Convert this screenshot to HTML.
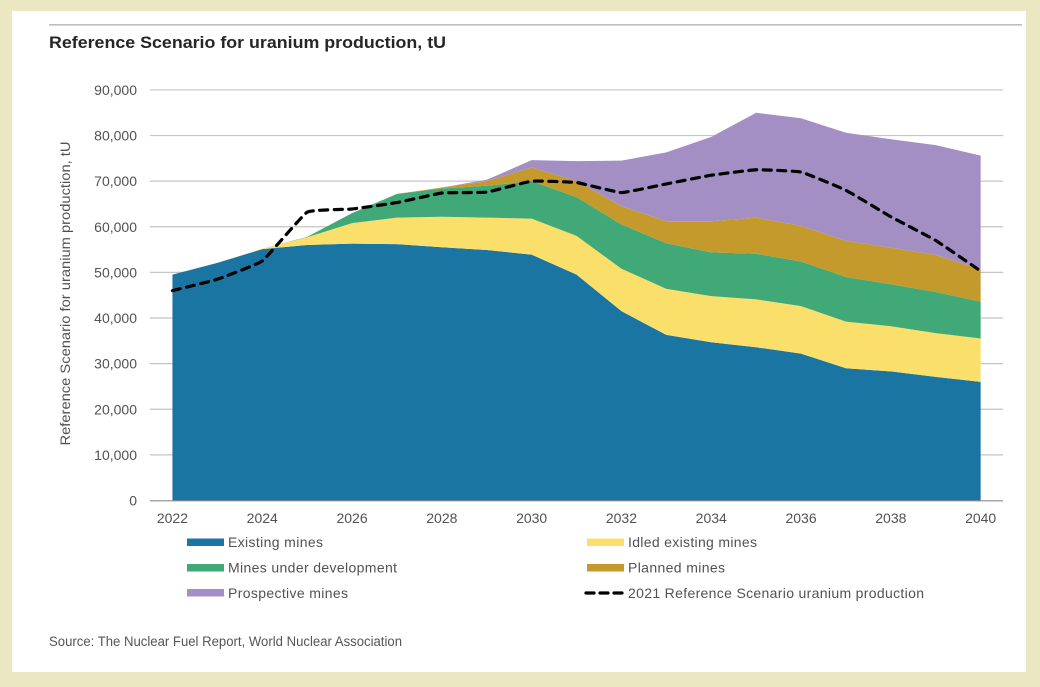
<!DOCTYPE html>
<html lang="en">
<head>
<meta charset="utf-8">
<title>Reference Scenario for uranium production, tU</title>
<style>
  html, body { margin: 0; padding: 0; background: #ebe7c3; }
  body { width: 1040px; height: 687px; overflow: hidden; }
  svg { display: block; }
  text { font-family: "Liberation Sans", sans-serif; fill: #525252; font-size: 14px; }
</style>
</head>
<body>
<svg id="chart" width="1040" height="687" viewBox="0 0 1040 687" xmlns="http://www.w3.org/2000/svg">
  <rect x="0" y="0" width="1040" height="687" fill="#ebe7c3"></rect>
  <rect x="12" y="11" width="1014" height="661" fill="#ffffff"></rect>
  <rect x="49" y="24" width="973" height="1.6" fill="#bdbdbd"></rect>
  <text x="49" y="48" textLength="397" lengthAdjust="spacingAndGlyphs" style="font-size:17px;font-weight:bold;fill:#262626">Reference Scenario for uranium production, tU</text>
  <g id="grid"></g>
  <g id="areas"></g>
  <g id="axis"></g>
  <g id="overlay"></g>
  <text transform="translate(70 293.5) rotate(-90)" text-anchor="middle" textLength="304" lengthAdjust="spacingAndGlyphs">Reference Scenario for uranium production, tU</text>

  <g>
    <g>
      <rect x="187" y="538.5" width="37" height="7.5" fill="#1b75a3"></rect>
      <text x="228" y="547" textLength="95" lengthAdjust="spacing">Existing mines</text>
    </g>
    <g>
      <rect x="187" y="564" width="37" height="7.5" fill="#41a977"></rect>
      <text x="228" y="572.5" textLength="169" lengthAdjust="spacing">Mines under development</text>
    </g>
    <g>
      <rect x="187" y="589" width="37" height="7.5" fill="#a48fc5"></rect>
      <text x="228" y="598" textLength="120" lengthAdjust="spacing">Prospective mines</text>
    </g>
    <g>
      <rect x="587" y="538.5" width="37" height="7.5" fill="#fbdf6b"></rect>
      <text x="628" y="547" textLength="129" lengthAdjust="spacing">Idled existing mines</text>
    </g>
    <g>
      <rect x="587" y="564" width="37" height="7.5" fill="#c49a2c"></rect>
      <text x="628" y="572.5" textLength="97" lengthAdjust="spacing">Planned mines</text>
    </g>
    <g>
      <line x1="586" y1="593" x2="623" y2="593" stroke="#000" stroke-width="3.2" stroke-linecap="round" stroke-dasharray="8 6"></line>
      <text x="628" y="598" textLength="296" lengthAdjust="spacing">2021 Reference Scenario uranium production</text>
    </g>
  </g>
  <text x="49" y="646" textLength="353" lengthAdjust="spacingAndGlyphs" style="font-size:13.5px;fill:#555">Source: The Nuclear Fuel Report, World Nuclear Association</text>
</svg>
<script>
var years = [2022,2023,2024,2025,2026,2027,2028,2029,2030,2031,2032,2033,2034,2035,2036,2037,2038,2039,2040];
var existingMines = [49500,52100,55100,56000,56300,56200,55500,54900,53900,49500,41500,36300,34700,33600,32200,29000,28300,27100,26000];
var idledMines = [0,0,100,1700,4500,5800,6700,7100,7900,8500,9300,10100,10100,10500,10400,10200,9900,9600,9500];
var developmentMines = [0,0,0,100,2200,5200,6200,7000,8200,8500,9700,10000,9600,10000,9800,9800,9200,9000,8100];
var plannedMines = [0,0,0,0,0,0,200,1000,3000,3500,4000,4800,6800,7900,7800,7900,8000,8100,7000];
var prospectiveMines = [0,0,0,0,0,0,0,300,1600,4400,10000,15100,18500,23000,23600,23700,23800,24100,25000];
var referenceScenario = [46000,48500,52500,63200,63900,65300,67400,67600,70000,69700,67500,69400,71300,72500,72000,68000,62200,57000,50300];
var yTicks = [0,10000,20000,30000,40000,50000,60000,70000,80000,90000];
var xTickYears = [2022,2024,2026,2028,2030,2032,2034,2036,2038,2040];

var NS = 'http://www.w3.org/2000/svg';
function xScale(year) { return 172.45 + (year - years[0]) * 44.9; }
function yScale(v) { return 500.5 - v * 45.62 / 10000; }
function make(tag, parent, attrs, text) {
  var el = document.createElementNS(NS, tag);
  for (var k in attrs) el.setAttribute(k, attrs[k]);
  if (text !== undefined) el.textContent = text;
  parent.appendChild(el);
  return el;
}

var gridLayer = document.getElementById('grid');
var axisLayer = document.getElementById('axis');
var areaLayer = document.getElementById('areas');
var overlayLayer = document.getElementById('overlay');

yTicks.forEach(function (t) {
  var y = yScale(t);
  if (t > 0) {
    var g = make('line', gridLayer, {x1: 150, x2: 1003, y1: y, y2: y, stroke: '#c4c4c4', 'stroke-width': 1.2});
    
    
  }
  var lab = make('text', axisLayer, {x: 137, y: y + 5, 'text-anchor': 'end'}, t.toLocaleString('en-US'));
  
  
});

var layers = [
  {name: 'area-existing-mines', values: existingMines, color: '#1b75a3'},
  {name: 'area-idled-existing-mines', values: idledMines, color: '#fbdf6b'},
  {name: 'area-mines-under-development', values: developmentMines, color: '#41a977'},
  {name: 'area-planned-mines', values: plannedMines, color: '#c49a2c'},
  {name: 'area-prospective-mines', values: prospectiveMines, color: '#a48fc5'}
];
var base = years.map(function () { return 0; });
layers.forEach(function (layer) {
  var top = base.map(function (b, i) { return b + layer.values[i]; });
  var pts = [];
  years.forEach(function (yr, i) { pts.push(xScale(yr).toFixed(2) + ',' + yScale(top[i]).toFixed(2)); });
  for (var i = years.length - 1; i >= 0; i--) { pts.push(xScale(years[i]).toFixed(2) + ',' + yScale(base[i]).toFixed(2)); }
  var poly = make('polygon', areaLayer, {points: pts.join(' '), fill: layer.color});
  
  
  base = top;
});

var axisLine = make('line', axisLayer, {x1: 150, x2: 1003, y1: yScale(0) + 0.3, y2: yScale(0) + 0.3, stroke: '#8c8c8c', 'stroke-width': 1.2});



xTickYears.forEach(function (yr) {
  var lab = make('text', axisLayer, {x: xScale(yr), y: 523, 'text-anchor': 'middle'}, String(yr));
  
  
});

var linePts = years.map(function (yr, i) { return [xScale(yr), yScale(referenceScenario[i])]; });
var d = 'M' + linePts[0][0].toFixed(2) + ' ' + linePts[0][1].toFixed(2);
for (var j = 0; j < linePts.length - 1; j++) {
  var p0 = linePts[Math.max(0, j - 1)], p1 = linePts[j], p2 = linePts[j + 1], p3 = linePts[Math.min(linePts.length - 1, j + 2)];
  var k = 0.05;
  d += ' C' + (p1[0] + (p2[0] - p0[0]) * k).toFixed(2) + ' ' + (p1[1] + (p2[1] - p0[1]) * k).toFixed(2) +
       ' ' + (p2[0] - (p3[0] - p1[0]) * k).toFixed(2) + ' ' + (p2[1] - (p3[1] - p1[1]) * k).toFixed(2) +
       ' ' + p2[0].toFixed(2) + ' ' + p2[1].toFixed(2);
}
var refLine = make('path', overlayLayer, {d: d, fill: 'none', stroke: '#000', 'stroke-width': 3.2, 'stroke-linecap': 'round', 'stroke-dasharray': '8 6.5'});


</script>
</body>
</html>
